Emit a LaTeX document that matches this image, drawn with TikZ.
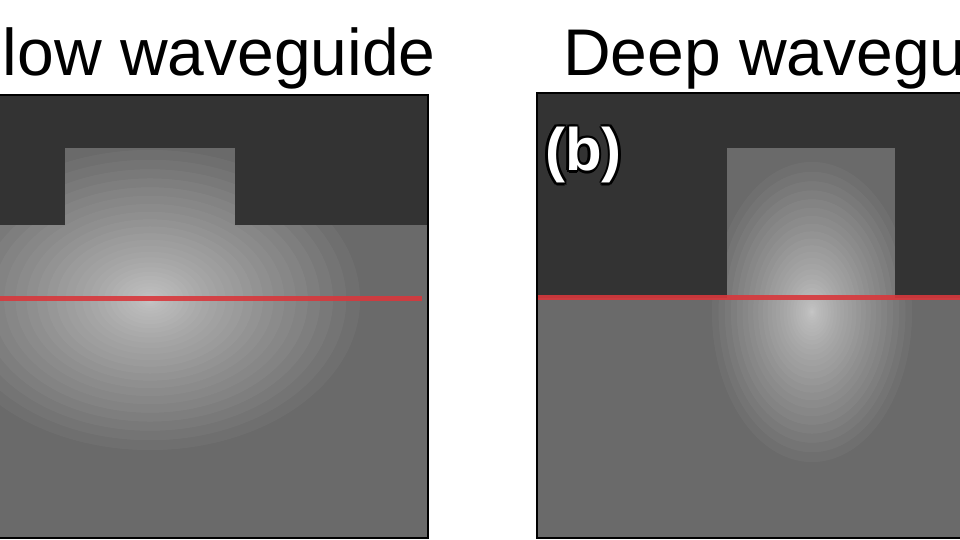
\documentclass[tikz,border=0pt]{standalone}
\usepackage{fontspec}
\setmainfont{Liberation Sans}
\definecolor{clad}{HTML}{333333}
\definecolor{core}{HTML}{6A6A6A}
\definecolor{cutline}{HTML}{D8383C}
\begin{document}
\begin{tikzpicture}[x=1pt, y=-1pt]
  \tikzset{
    title/.style={font=\fontsize{66}{72}\selectfont, anchor=base west, inner sep=0pt},
    panel/.style={draw=black, line width=2.5pt},
    glow/.style={fill=white, opacity=.04},
    cut/.style={draw=cutline, line width=5pt, opacity=.9},
    tag/.style={font=\bfseries\fontsize{60}{64}\selectfont, anchor=west, inner sep=0pt}
  }
  \useasboundingbox (0,0) rectangle (960,540);
  \clip (0,0) rectangle (960,540);
  \fill[white] (0,0) rectangle (960,540);

  % titles
  \node[title, anchor=base east] (ttlA) at (436,76) {Shallow waveguide};
  \node[title] (ttlB) at (563,76) {Deep waveguide};

  % shallow panel
  \fill[core] (-10,95) rectangle (428,538);
  \fill[clad] (-10,95) rectangle (428,225);
  \fill[core] (65,148) rectangle (235,226);
  \begin{scope}
    \clip (-10,225) rectangle (428,538) (65,148) rectangle (235,226);
    \foreach \k in {1,...,30}
      \fill[glow] (150,300) ellipse [x radius=0.2333*\k*\k, y radius=0.1667*\k*\k];
  \end{scope}
  \draw[cut] (-10,298) -- (422,298);
  \draw[panel] (-10,95) rectangle (428,538);

  % deep panel
  \fill[core] (537,93) rectangle (970,538);
  \fill[clad] (537,93) rectangle (970,298);
  \fill[core] (727,148) rectangle (895,298);
  \begin{scope}
    \clip (537,298) rectangle (970,538) (727,148) rectangle (895,299);
    \foreach \k in {1,...,30}
      \fill[glow] (812,312) ellipse [x radius=0.1111*\k*\k, y radius=0.1667*\k*\k];
  \end{scope}
  \draw[cut] (537,297) -- (970,297);
  \draw[panel] (537,93) rectangle (970,538);
  \foreach \dx/\dy in {-2.5/0,2.5/0,0/-2.5,0/2.5,-1.8/-1.8,1.8/1.8,-1.8/1.8,1.8/-1.8}
    \node[tag, text=black] at (545+\dx,155+\dy) {(b)};
  \node[tag, text=white] (lblB) at (545,155) {(b)};
\end{tikzpicture}
\end{document}
